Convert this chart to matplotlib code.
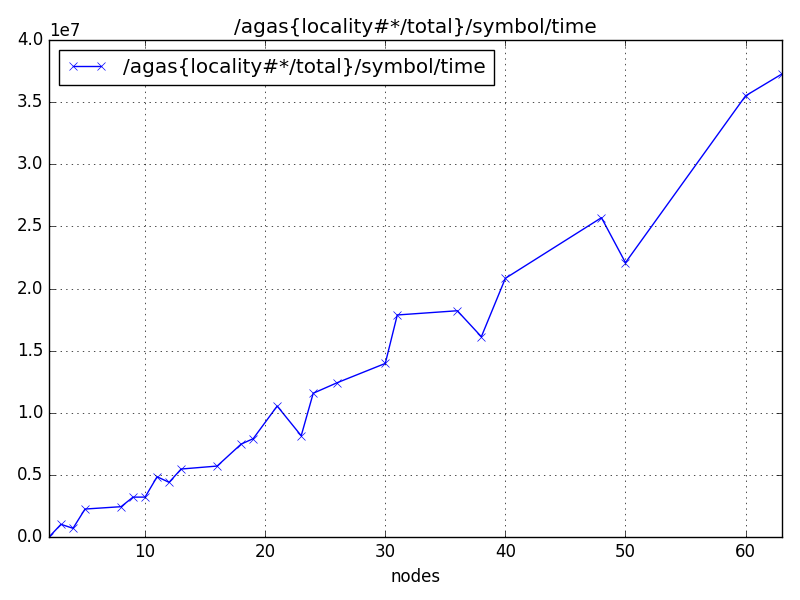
import matplotlib
matplotlib.use("Agg")
import matplotlib.pyplot as plt

plt.style.use("classic")

nodes = [2, 3, 4, 5, 8, 9, 10, 11, 12, 13, 16, 18, 19, 21, 23, 24, 26,
         30, 31, 36, 38, 40, 48, 50, 60, 63]
times = [0.0, 0.102e7, 0.07e7, 0.225e7, 0.244e7, 0.321e7, 0.321e7, 0.485e7,
         0.44e7, 0.547e7, 0.571e7, 0.748e7, 0.791e7, 1.054e7, 0.815e7,
         1.157e7, 1.242e7, 1.397e7, 1.787e7, 1.821e7, 1.612e7, 2.082e7,
         2.57e7, 2.208e7, 3.551e7, 3.725e7]
label = "/agas{locality#*/total}/symbol/time"

fig = plt.figure(figsize=(8, 6), dpi=100, facecolor="white")
ax = fig.add_subplot(111)
ax.plot(nodes, times, "bx-", label=label)
ax.set_xlim(2, 63)
ax.set_ylim(0, 4.0e7)
ax.set_title(label)
ax.set_xlabel("nodes")
ax.grid(True)
ax.legend(loc="upper left")
fig.subplots_adjust(left=0.06125, right=0.977, top=0.9333, bottom=0.105)
fig.savefig("out.png", dpi=100, facecolor="white")
